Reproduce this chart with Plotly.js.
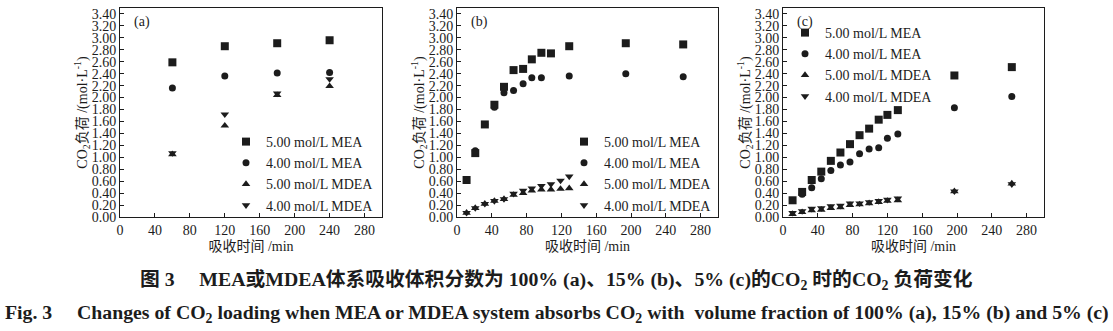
<!DOCTYPE html>
<html>
<head>
<meta charset="utf-8">
<script src="https://cdn.plot.ly/plotly-3.0.1.min.js"></script>
<style>
html,body{margin:0;padding:0;background:#fff;}
#chart{width:1113px;height:331px;}
</style>
</head>
<body>
<div id="chart"></div>
<script>
// ---------- data ----------
const seriesNames = ["5.00 mol/L MEA", "4.00 mol/L MEA", "5.00 mol/L MDEA", "4.00 mol/L MDEA"];
const panelLabels = ["(a)", "(b)", "(c)"];
const xTicks = [0, 40, 80, 120, 160, 200, 240, 280];

// (a) 100 %
const tA = [60, 120, 180, 240];
const aMEA5 = [2.59, 2.86, 2.91, 2.96];
const aMEA4 = [2.16, 2.36, 2.41, 2.42];
const aMDEA5 = [1.05, 1.53, 2.04, 2.19];
const aMDEA4 = [1.07, 1.72, 2.07, 2.31];

// (b) 15 %
const tB_MEA5 = [11, 21, 32, 43, 54, 65, 76, 86, 97, 108, 129, 194, 260];
const bMEA5 = [0.62, 1.07, 1.55, 1.88, 2.18, 2.46, 2.48, 2.64, 2.75, 2.74, 2.86, 2.91, 2.89];
const tB_MEA4 = [11, 21, 32, 43, 54, 65, 76, 86, 97, 129, 194, 260];
const bMEA4 = [0.62, 1.11, 1.55, 1.84, 2.08, 2.12, 2.23, 2.33, 2.33, 2.36, 2.40, 2.35];
const tB_MDEA = [11, 21, 32, 43, 54, 65, 76, 86, 97, 108, 119, 129];
const bMDEA5 = [0.07, 0.15, 0.22, 0.27, 0.30, 0.37, 0.40, 0.44, 0.46, 0.46, 0.47, 0.48];
const bMDEA4 = [0.07, 0.15, 0.22, 0.27, 0.30, 0.39, 0.44, 0.48, 0.52, 0.55, 0.61, 0.68];

// (c) 5 %
const tC = [11, 22, 33, 44, 55, 66, 77, 88, 99, 110, 120, 132, 197, 263];
const cMEA5 = [0.28, 0.42, 0.62, 0.76, 0.94, 1.08, 1.22, 1.37, 1.48, 1.63, 1.71, 1.79, 2.37, 2.51];
const tC_MEA4 = [22, 33, 44, 55, 66, 77, 88, 99, 110, 120, 132, 197, 263];
const cMEA4 = [0.38, 0.49, 0.64, 0.78, 0.87, 0.92, 1.06, 1.14, 1.16, 1.32, 1.39, 1.83, 2.02];
const cMDEA5 = [0.05, 0.08, 0.11, 0.12, 0.15, 0.16, 0.20, 0.21, 0.23, 0.25, 0.27, 0.28, 0.43, 0.56];
const cMDEA4 = [0.07, 0.10, 0.14, 0.15, 0.18, 0.19, 0.23, 0.23, 0.25, 0.27, 0.29, 0.31, 0.43, 0.55];

const captionCN = "图 3\u2003 MEA或MDEA体系吸收体积分数为 100% (a)、15% (b)、5% (c)的CO<sub>2</sub> 时的CO<sub>2</sub> 负荷变化";
const captionEN = "Fig. 3\u2003 Changes of CO<sub>2</sub> loading when MEA or MDEA system absorbs CO<sub>2</sub> with  volume fraction of 100% (a), 15% (b) and 5% (c)";
const xTitle = "吸收时间 /min";
const yTitle = "CO<sub>2</sub>负荷 /(mol·L<sup>-1</sup>)";

// ---------- styling ----------
const FONT = "Liberation Serif, Times New Roman, Noto Sans CJK SC, serif";
const INK = "#1c1c1c";
const symbols = ["square", "circle", "triangle-up", "triangle-down"];
const sizes = [8, 7, 7.5, 7.5];

const panels = [
  {xs: [tA, tA, tA, tA], ys: [aMEA5, aMEA4, aMDEA5, aMDEA4]},
  {xs: [tB_MEA5, tB_MEA4, tB_MDEA, tB_MDEA], ys: [bMEA5, bMEA4, bMDEA5, bMDEA4]},
  {xs: [tC, tC_MEA4, tC, tC], ys: [cMEA5, cMEA4, cMDEA5, cMDEA4]}
];

const traces = [];
panels.forEach((p, pi) => {
  const sfx = pi === 0 ? "" : String(pi + 1);
  p.ys.forEach((y, si) => {
    traces.push({
      type: "scatter", mode: "markers",
      x: p.xs[si], y: y,
      name: seriesNames[si],
      xaxis: "x" + sfx, yaxis: "y" + sfx,
      legend: "legend" + sfx,
      marker: {symbol: symbols[si], size: sizes[si], color: INK, line: {width: 0}},
      cliponaxis: false
    });
  });
});

const W = 1113, H = 331;
const xDomains = [[120, 382], [457, 718], [783, 1044]];
const yDom = [(H - 217) / H, (H - 8) / H];

const layout = {
  width: W, height: H,
  margin: {l: 0, r: 0, t: 0, b: 0},
  paper_bgcolor: "#fff", plot_bgcolor: "#fff",
  font: {family: FONT, size: 14, color: INK},
  showlegend: true,
  annotations: []
};

xDomains.forEach((d, i) => {
  const sfx = i === 0 ? "" : String(i + 1);
  layout["xaxis" + sfx] = {
    domain: [d[0] / W, d[1] / W],
    anchor: "y" + sfx,
    range: [0, 300],
    tickmode: "array", tickvals: xTicks,
    ticks: "inside", ticklen: 4, tickcolor: INK,
    showline: true, mirror: true, linecolor: INK, linewidth: 1,
    showgrid: false, zeroline: false,
    tickfont: {family: FONT, size: 14, color: INK},
    title: {text: xTitle, font: {family: FONT, size: 14, color: INK}, standoff: 4},
    automargin: false
  };
  layout["yaxis" + sfx] = {
    domain: yDom,
    anchor: "x" + sfx,
    range: [0, 3.5],
    tickmode: "linear", tick0: 0, dtick: 0.2, tickformat: ".2f",
    ticks: "inside", ticklen: 4, tickcolor: INK,
    showline: true, mirror: true, linecolor: INK, linewidth: 1,
    showgrid: false, zeroline: false,
    tickfont: {family: FONT, size: 14, color: INK},
    title: {text: yTitle, font: {family: FONT, size: 14, color: INK}, standoff: 0},
    automargin: false
  };
  layout.annotations.push({
    xref: "paper", yref: "paper",
    x: (d[0] + 12) / W, y: (H - 22) / H,
    xanchor: "left", yanchor: "middle",
    text: panelLabels[i], showarrow: false,
    font: {family: FONT, size: 14, color: INK}
  });
});

const legendBase = {
  bgcolor: "rgba(0,0,0,0)", borderwidth: 0,
  font: {family: FONT, size: 14, color: INK},
  xanchor: "left", yanchor: "top",
  itemclick: false, itemdoubleclick: false,
  tracegroupgap: 0
};
layout.legend  = Object.assign({}, legendBase, {x: 226 / W, y: 1 - 126 / H});
layout.legend2 = Object.assign({}, legendBase, {x: 564 / W, y: 1 - 126 / H});
layout.legend3 = Object.assign({}, legendBase, {x: 785 / W, y: 1 - 17 / H});

layout.annotations.push({
  xref: "paper", yref: "paper", x: 0.5, y: (H - 280) / H,
  xanchor: "center", yanchor: "middle", showarrow: false,
  text: "<b>" + captionCN + "</b>",
  font: {family: FONT, size: 19.8, color: INK}
});
layout.annotations.push({
  xref: "paper", yref: "paper", x: 0.5, y: (H - 313) / H,
  xanchor: "center", yanchor: "middle", showarrow: false,
  text: "<b>" + captionEN + "</b>",
  font: {family: FONT, size: 19.8, color: INK}
});

Plotly.newPlot("chart", traces, layout, {staticPlot: true, displayModeBar: false});
</script>
</body>
</html>
